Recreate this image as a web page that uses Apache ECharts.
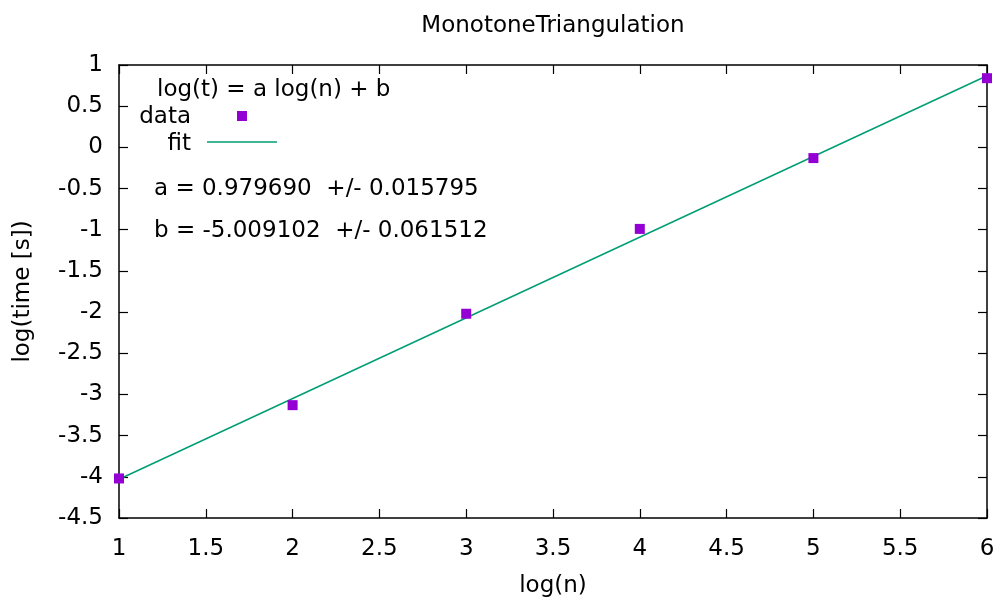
<!DOCTYPE html>
<html>
<head>
<meta charset="utf-8">
<script src="https://cdn.jsdelivr.net/npm/echarts@6/dist/echarts.min.js"></script>
<style>html,body{margin:0;padding:0;background:#fff}#c{width:1001px;height:604px}</style>
</head>
<body>
<div id="c"></div>
<script>
const chartTitle = 'MonotoneTriangulation';
const xName = 'log(n)';
const yName = 'log(time [s])';
const dataX = [1, 2, 3, 4, 5, 6];
const dataY = [-4.02, -3.13, -2.02, -0.99, -0.13, 0.84];
const fitX = [1, 6];
const fitY = [-4.03, 0.87];
const legendLines = ['log(t) = a log(n) + b', 'data', 'fit'];
const paramLines = ['a = 0.979690  +/- 0.015795', 'b = -5.009102  +/- 0.061512'];

const FONT = 'DejaVu Sans';
const FS = 23;
const fontStr = FS + 'px "' + FONT + '"';
const chart = echarts.init(document.getElementById('c'), null, {renderer: 'canvas'});
const axisLine = {show: true, onZero: false, lineStyle: {color: '#000', width: 1.5}};
const tickIn = {show: true, inside: true, length: 9, lineStyle: {color: '#000', width: 1.2}};
chart.setOption({
  animation: false,
  backgroundColor: '#fff',
  grid: {left: 119, right: 14, top: 65, bottom: 86},
  xAxis: [{
    type: 'value', min: 1, max: 6, interval: 0.5, position: 'bottom',
    name: xName, nameLocation: 'middle', nameGap: 57,
    nameTextStyle: {fontFamily: FONT, fontSize: FS, color: '#000'},
    axisLine: axisLine, axisTick: tickIn, splitLine: {show: false},
    axisLabel: {fontFamily: FONT, fontSize: FS, color: '#000', margin: 20}
  }, {
    type: 'value', min: 1, max: 6, interval: 0.5, position: 'top',
    axisLine: axisLine, axisTick: tickIn, splitLine: {show: false}, axisLabel: {show: false}
  }],
  yAxis: [{
    type: 'value', min: -4.5, max: 1, interval: 0.5, position: 'left',
    name: yName, nameLocation: 'middle', nameGap: 84,
    nameTextStyle: {fontFamily: FONT, fontSize: FS, color: '#000'},
    axisLine: axisLine, axisTick: tickIn, splitLine: {show: false},
    axisLabel: {fontFamily: FONT, fontSize: FS, color: '#000', margin: 16, padding: [5, 0, 0, 0]}
  }, {
    type: 'value', min: -4.5, max: 1, interval: 0.5, position: 'right',
    axisLine: axisLine, axisTick: tickIn, splitLine: {show: false}, axisLabel: {show: false}
  }],
  series: [{
    name: 'fit', type: 'line', data: fitX.map((x, i) => [x, fitY[i]]),
    symbol: 'none', lineStyle: {color: '#009e73', width: 1.5}, z: 2
  }, {
    name: 'data', type: 'scatter', data: dataX.map((x, i) => [x, dataY[i]]),
    symbol: 'rect', symbolSize: 10, itemStyle: {color: '#9400d3', opacity: 1}, z: 3
  }],
  graphic: [
    {type: 'text', style: {x: 553, y: 26, text: chartTitle, font: fontStr, fill: '#000', align: 'center', verticalAlign: 'middle'}},
    {type: 'text', style: {x: 157, y: 90, text: legendLines[0], font: fontStr, fill: '#000', align: 'left', verticalAlign: 'middle'}},
    {type: 'text', style: {x: 191, y: 117, text: legendLines[1], font: fontStr, fill: '#000', align: 'right', verticalAlign: 'middle'}},
    {type: 'rect', shape: {x: 237, y: 111, width: 10, height: 10}, style: {fill: '#9400d3'}},
    {type: 'text', style: {x: 191, y: 144, text: legendLines[2], font: fontStr, fill: '#000', align: 'right', verticalAlign: 'middle'}},
    {type: 'line', shape: {x1: 207, y1: 142, x2: 277, y2: 142}, style: {stroke: '#009e73', lineWidth: 1.5}},
    {type: 'text', style: {x: 154, y: 189, text: paramLines[0], font: fontStr, fill: '#000', align: 'left', verticalAlign: 'middle'}},
    {type: 'text', style: {x: 154, y: 231, text: paramLines[1], font: fontStr, fill: '#000', align: 'left', verticalAlign: 'middle'}}
  ]
});
</script>
</body>
</html>
